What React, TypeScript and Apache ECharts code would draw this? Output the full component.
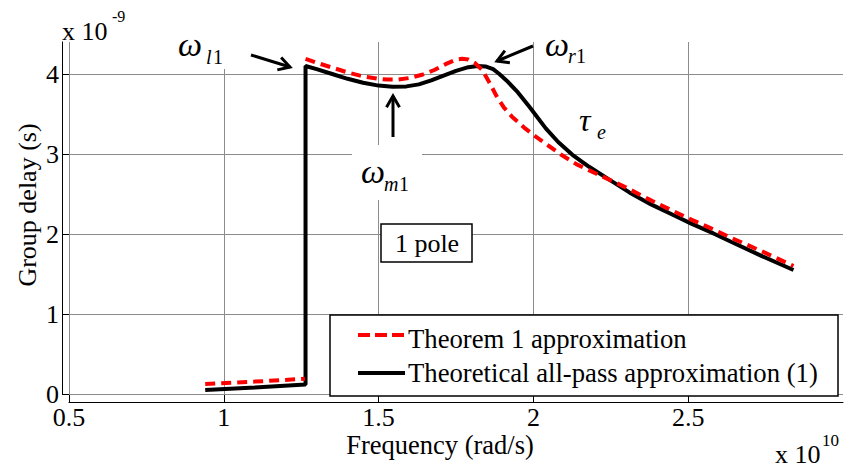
import React, { useEffect, useRef } from "react";
import * as echarts from "echarts";

// ---- data (x in units of 1e10 rad/s, y in units of 1e-9 s) ----
const xTickValues = [0.5, 1, 1.5, 2, 2.5];
const yTickValues = [0, 1, 2, 3, 4];
const seriesNames = ["Theorem 1 approximation", "Theoretical all-pass approximation (1)"];

const theoremLow = [
  [0.94, 0.125], [1.1, 0.155], [1.262, 0.19],
];
const theoremHigh = [
  [1.264, 4.19], [1.3, 4.14], [1.35, 4.08], [1.4, 4.02], [1.45, 3.97], [1.5, 3.94],
  [1.53, 3.93], [1.56, 3.93], [1.6, 3.95], [1.64, 3.99], [1.68, 4.05], [1.72, 4.13],
  [1.75, 4.18], [1.77, 4.19], [1.79, 4.18], [1.81, 4.14], [1.835, 4.05], [1.86, 3.88],
  [1.88, 3.73], [1.905, 3.58], [1.93, 3.47], [1.97, 3.33], [2.01, 3.21], [2.05, 3.1],
  [2.09, 2.99], [2.14, 2.87], [2.2, 2.76], [2.3, 2.58], [2.38, 2.42], [2.45, 2.29],
  [2.51, 2.18], [2.58, 2.06], [2.64, 1.95], [2.74, 1.78], [2.84, 1.6],
];
const allPass = [
  [0.94, 0.05], [1.1, 0.08], [1.264, 0.12], [1.264, 4.1], [1.3, 4.06], [1.35, 4.0],
  [1.4, 3.94], [1.45, 3.89], [1.5, 3.855], [1.545, 3.84], [1.59, 3.845], [1.63, 3.87],
  [1.67, 3.92], [1.71, 3.98], [1.75, 4.04], [1.79, 4.085], [1.82, 4.1], [1.845, 4.095],
  [1.87, 4.06], [1.89, 4.0], [1.913, 3.92], [1.95, 3.77], [1.987, 3.59], [2.04, 3.32],
  [2.08, 3.15], [2.126, 2.99], [2.18, 2.84], [2.245, 2.68], [2.31, 2.52], [2.38, 2.37],
  [2.45, 2.24], [2.51, 2.13], [2.58, 2.01], [2.64, 1.9], [2.74, 1.72], [2.84, 1.55],
];

const FONT = '"Liberation Serif", "Times New Roman", serif';
const GRID = "#8c8c8c";

function arrow(x1: number, y1: number, x2: number, y2: number, len = 13) {
  const dx = x2 - x1, dy = y2 - y1;
  const L = Math.hypot(dx, dy);
  const ux = -dx / L, uy = -dy / L;
  const a = Math.PI / 6;
  const r1 = [x2 + len * (ux * Math.cos(a) - uy * Math.sin(a)), y2 + len * (ux * Math.sin(a) + uy * Math.cos(a))];
  const r2 = [x2 + len * (ux * Math.cos(-a) - uy * Math.sin(-a)), y2 + len * (ux * Math.sin(-a) + uy * Math.cos(-a))];
  const st = { stroke: "#000", lineWidth: 3, fill: null };
  return [
    { type: "polyline", shape: { points: [[x1, y1], [x2, y2]] }, style: st, z: 50 },
    { type: "polyline", shape: { points: [r1, [x2, y2], r2] }, style: st, z: 50 },
  ];
}

function txt(text: string, x: number, y: number, size: number, opts: any = {}) {
  return {
    type: "text",
    x, y, z: 60,
    rotation: opts.rotation || 0,
    style: {
      text,
      fontFamily: FONT,
      fontSize: size,
      lineHeight: opts.lh || Math.round(size * 0.95),
      fontStyle: opts.italic ? "italic" : "normal",
      fill: "#000",
      align: opts.align || "left",
      textAlign: opts.align || "left",
      verticalAlign: "middle",
      textVerticalAlign: "middle",
    },
  };
}

export default function App() {
  const ref = useRef<HTMLDivElement>(null);
  useEffect(() => {
    if (!ref.current) return;
    const chart = echarts.init(ref.current, undefined, { renderer: "svg" });
    const graphic: any[] = [
      // white patches behind annotations
      { type: "rect", shape: { x: 172, y: 42, width: 66, height: 27 }, style: { fill: "#fff" }, z: 40 },
      { type: "rect", shape: { x: 352, y: 145, width: 70, height: 55 }, style: { fill: "#fff" }, z: 40 },
      // exponent labels
      txt("x 10", 62, 31, 26),
      txt("-9", 112, 16, 16),
      txt("x 10", 775, 454, 26),
      txt("10", 822, 440, 17),
      // axis names
      txt("Frequency (rad/s)", 440, 445, 26.5, { align: "center", lh: 22 }),
      { ...txt("Group delay (s)", 27, 205, 26, { align: "center" }), rotation: Math.PI / 2 },
      // omega_l1
      txt("ω", 178, 44, 34, { italic: true }),
      txt("l", 206, 57, 20, { italic: true }),
      txt("1", 213, 57, 20),
      ...arrow(251, 55, 290, 67),
      // omega_m1
      txt("ω", 361, 171, 34, { italic: true }),
      txt("m", 384, 184, 20, { italic: true }),
      txt("1", 399, 184, 20),
      ...arrow(393, 137, 393, 96),
      // omega_r1
      txt("ω", 545, 44, 34, { italic: true }),
      txt("r", 568, 56, 20, { italic: true }),
      txt("1", 576, 56, 20),
      ...arrow(533, 46, 497, 61),
      // tau_e
      txt("τ", 579, 120, 32, { italic: true }),
      txt("e", 597, 132, 20, { italic: true }),
      // 1 pole box
      { type: "rect", shape: { x: 381, y: 224, width: 91, height: 38 }, style: { fill: "#fff", stroke: "#000", lineWidth: 1.5 }, z: 45 },
      txt("1 pole", 427, 243, 26, { align: "center" }),
      // legend
      { type: "rect", shape: { x: 330, y: 315, width: 508, height: 81 }, style: { fill: "#fff", stroke: "#000", lineWidth: 1.5 }, z: 45 },
      { type: "line", shape: { x1: 358, y1: 335, x2: 405, y2: 335 }, style: { stroke: "#ff0000", lineWidth: 4, lineDash: [12, 5] }, z: 50 },
      txt(seriesNames[0], 408, 339, 26.7),
      { type: "line", shape: { x1: 358, y1: 373, x2: 405, y2: 373 }, style: { stroke: "#000", lineWidth: 4 }, z: 50 },
      txt(seriesNames[1], 408, 373, 26.7),
    ];

    chart.setOption({
      animation: false,
      backgroundColor: "#fff",
      grid: { left: 69, right: 4, top: 42, bottom: 74, containLabel: false },
      xAxis: {
        type: "value",
        min: xTickValues[0],
        max: 3,
        interval: 0.5,
        offset: 8,
        axisLine: { show: true, onZero: false, lineStyle: { color: "#000", width: 1 } },
        axisTick: { show: true, inside: true, length: 7, lineStyle: { color: "#000" } },
        axisLabel: { fontSize: 26, lineHeight: 18, fontFamily: FONT, color: "#000", margin: 6, showMaxLabel: false },
        splitLine: { show: true, showMaxLine: false, lineStyle: { color: GRID, width: 1 } },
      },
      yAxis: {
        type: "value",
        min: yTickValues[0],
        max: 4.4,
        interval: 1,
        offset: 7,
        axisLine: { show: true, onZero: false, lineStyle: { color: "#000", width: 1 } },
        axisTick: { show: true, inside: true, length: 7, lineStyle: { color: "#000" } },
        axisLabel: { fontSize: 26, lineHeight: 18, fontFamily: FONT, color: "#000", margin: 3, showMaxLabel: false },
        splitLine: { show: true, showMaxLine: false, lineStyle: { color: GRID, width: 1 } },
      },
      series: [
        {
          type: "line", name: seriesNames[1], data: allPass, symbol: "none", showSymbol: false,
          lineStyle: { color: "#000", width: 4 }, z: 3,
        },
        {
          type: "line", name: seriesNames[0], data: theoremLow, symbol: "none", showSymbol: false,
          lineStyle: { color: "#ff0000", width: 4, type: [10, 6] }, z: 4,
        },
        {
          type: "line", name: seriesNames[0], data: theoremHigh, symbol: "none", showSymbol: false,
          lineStyle: { color: "#ff0000", width: 4, type: [10, 6] }, z: 4,
        },
      ],
      graphic,
    });
    return () => chart.dispose();
  }, []);
  return <div ref={ref} style={{ position: "fixed", left: 0, top: 0, width: 847, height: 468 }} />;
}
